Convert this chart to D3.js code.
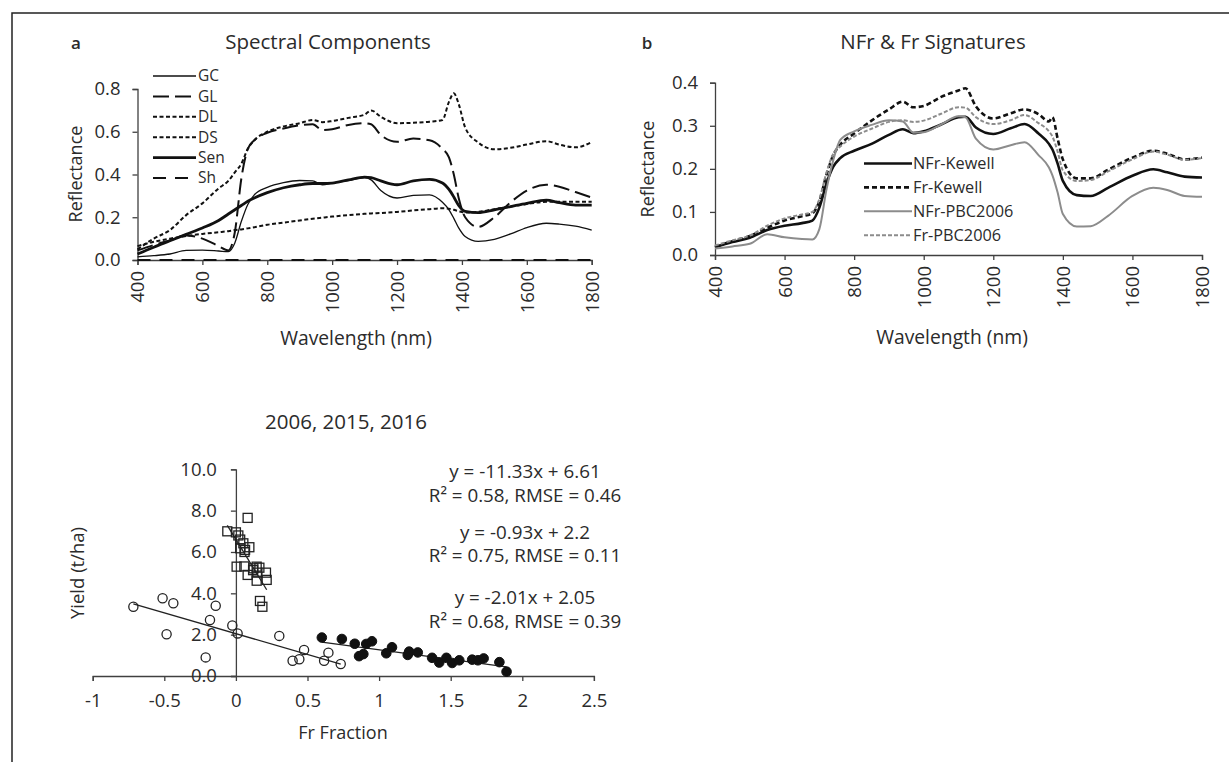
<!DOCTYPE html>
<html>
<head>
<meta charset="utf-8">
<script src="https://cdn.jsdelivr.net/npm/d3@7"></script>
<style>
  body { margin: 0; background: #fff; }
  svg { display: block; font-family: "Open Sans", sans-serif; }
  .axis path, .axis line { stroke: #404040; stroke-width: 1.3; }
  .axis text { fill: #2b2b2b; font-size: 18.5px; font-family: "Open Sans", sans-serif; }
</style>
</head>
<body>
<svg width="1229" height="762"></svg>
<script>
// ---- panel a: spectral components ----
var wlA = [400,450,500,550,600,650,680,700,720,740,760,800,850,900,940,970,1000,1050,1100,1120,1150,1200,1250,1300,1340,1360,1375,1390,1410,1450,1500,1550,1600,1660,1700,1750,1800];
var GC  = [.015,.02,.028,.045,.046,.042,.039,.08,.18,.26,.305,.34,.362,.372,.37,.352,.36,.372,.385,.375,.325,.29,.302,.305,.27,.235,.195,.15,.11,.087,.097,.122,.152,.172,.168,.158,.14];
var GL  = [.045,.07,.092,.115,.1,.065,.045,.13,.38,.52,.56,.595,.615,.63,.635,.608,.612,.632,.64,.635,.585,.553,.568,.56,.52,.48,.40,.29,.2,.155,.2,.27,.325,.352,.343,.318,.292];
var DL  = [.05,.1,.14,.21,.265,.335,.37,.41,.45,.52,.56,.6,.625,.64,.655,.645,.65,.665,.68,.7,.67,.64,.642,.647,.655,.74,.78,.73,.62,.55,.518,.525,.54,.556,.54,.527,.552];
var DS  = [.065,.085,.1,.112,.122,.13,.135,.14,.143,.148,.153,.165,.175,.185,.193,.198,.203,.21,.216,.218,.22,.225,.232,.238,.242,.24,.235,.228,.222,.225,.238,.25,.262,.272,.272,.273,.273];
var Sen = [.028,.06,.09,.12,.15,.185,.215,.235,.255,.275,.29,.315,.338,.352,.358,.358,.36,.375,.388,.385,.37,.352,.37,.377,.36,.33,.295,.255,.228,.222,.235,.25,.265,.28,.268,.257,.257];
var Sh  = [0,0,0,0,0,0,0,0,0,0,0,0,0,0,0,0,0,0,0,0,0,0,0,0,0,0,0,0,0,0,0,0,0,0,0,0,0];
var namesA = ["GC","GL","DL","DS","Sen","Sh"];

// ---- panel b: NFr & Fr signatures ----
var wlB = [400,450,500,550,600,650,680,700,720,740,760,800,850,900,940,970,1000,1050,1100,1120,1150,1200,1250,1290,1330,1360,1370,1385,1400,1440,1480,1530,1600,1660,1700,1750,1800];
var nfrKewell = [.018,.03,.04,.058,.068,.074,.08,.11,.165,.205,.225,.242,.258,.279,.292,.283,.287,.303,.32,.321,.296,.281,.294,.304,.282,.258,.245,.212,.172,.139,.137,.156,.184,.199,.192,.182,.18];
var frKewell  = [.019,.032,.044,.063,.08,.09,.097,.125,.185,.232,.256,.282,.312,.338,.356,.343,.346,.367,.382,.387,.345,.317,.329,.338,.327,.31,.32,.27,.222,.178,.178,.198,.226,.242,.235,.222,.226];
var nfrPBC    = [.015,.02,.026,.048,.041,.037,.036,.06,.15,.22,.267,.287,.302,.313,.31,.284,.285,.303,.322,.32,.27,.245,.255,.262,.232,.203,.185,.145,.095,.066,.067,.091,.137,.156,.151,.137,.135];
var frPBC     = [.022,.034,.045,.068,.085,.094,.1,.13,.19,.235,.252,.275,.293,.309,.313,.309,.312,.328,.343,.342,.32,.304,.313,.325,.306,.287,.275,.24,.196,.172,.174,.194,.222,.24,.233,.221,.225];
var namesB = ["NFr-Kewell","Fr-Kewell","NFr-PBC2006","Fr-PBC2006"];

// ---- panel c: yield vs Fr fraction ----
var squares = [[-0.06,7.0],[0.0,6.95],[0.017,6.8],[0.03,6.6],[0.082,7.65],[0.052,6.42],[0.03,6.18],[0.06,6.0],[0.064,6.1],[0.094,6.23],[0.005,5.29],[0.059,5.3],[0.082,4.89],[0.12,5.12],[0.122,5.21],[0.145,5.29],[0.15,5.0],[0.164,5.24],[0.145,4.61],[0.21,5.0],[0.215,4.65],[0.168,3.63],[0.185,3.35]];
var openCircles = [[-0.716,3.35],[-0.512,3.76],[-0.437,3.52],[-0.484,2.02],[-0.141,3.4],[-0.181,2.71],[-0.211,0.9],[-0.025,2.44],[0.012,2.06],[0.303,1.94],[0.396,0.74],[0.443,0.81],[0.476,1.26],[0.616,0.74],[0.646,1.13],[0.732,0.58]];
var filledCircles = [[0.6,1.86],[0.74,1.79],[0.83,1.56],[0.86,0.96],[0.89,1.06],[0.91,1.55],[0.95,1.68],[1.05,1.1],[1.09,1.39],[1.2,1.02],[1.21,1.18],[1.27,1.14],[1.37,0.88],[1.42,0.65],[1.47,0.88],[1.51,0.63],[1.56,0.76],[1.65,0.79],[1.69,0.76],[1.73,0.85],[1.84,0.67],[1.89,0.21]];
var fits = [
  {slope: -11.33, icept: 6.61, pts: squares},
  {slope: -0.93, icept: 2.2, pts: filledCircles},
  {slope: -2.01, icept: 2.05, pts: openCircles}
];
var eqLines = ["y = -11.33x + 6.61", "R\u00b2 = 0.58, RMSE = 0.46",
               "y = -0.93x + 2.2", "R\u00b2 = 0.75, RMSE = 0.11",
               "y = -2.01x + 2.05", "R\u00b2 = 0.68, RMSE = 0.39"];
var xTicksC = [-1,-0.5,0,0.5,1,1.5,2,2.5];

var svg = d3.select("svg"),
    ink = "#2b2b2b";

// frame
svg.append("rect")
    .attr("x", 12).attr("y", 13)
    .attr("width", 1240).attr("height", 780)
    .attr("fill", "none").attr("stroke", "#222").attr("stroke-width", 1.5);

function txt(x, y, s, size, opts) {
  opts = opts || {};
  var t = svg.append("text")
    .attr("x", x).attr("y", y)
    .attr("dy", "0.35em")
    .attr("text-anchor", opts.anchor || "middle")
    .style("font-size", size + "px")
    .style("font-weight", opts.weight || null)
    .style("fill", ink)
    .text(s);
  if (opts.rotate) t.attr("transform", "rotate(-90," + x + "," + y + ")");
  return t;
}

var mono = d3.line().curve(d3.curveMonotoneX);

// ================= panel a =================
var xa = d3.scaleLinear().domain([400, 1800]).range([137.5, 591.7]),
    ya = d3.scaleLinear().domain([0, 0.8]).range([260, 89]);

var styleA = {
  GC:  {w: 1.3, dash: null},
  GL:  {w: 2, dash: "16,6"},
  DL:  {w: 2, dash: "4,2.5"},
  DS:  {w: 2, dash: "4,2.5"},
  Sen: {w: 2.8, dash: null},
  Sh:  {w: 2, dash: "13,9"}
};
var seriesA = {GC: GC, GL: GL, DL: DL, DS: DS, Sen: Sen, Sh: Sh};

var gA = svg.append("g");
gA.append("g").attr("class", "axis")
    .attr("transform", "translate(" + xa.range()[0] + ",0)")
    .call(d3.axisLeft(ya).tickValues([0, 0.2, 0.4, 0.6, 0.8]).tickFormat(d3.format(".1f")).tickSizeOuter(0).tickSize(5).tickPadding(12));
var axA = gA.append("g").attr("class", "axis")
    .attr("transform", "translate(0," + ya(0) + ")")
    .call(d3.axisBottom(xa).tickValues(d3.range(400, 1801, 200)).tickFormat(d3.format("d")).tickSizeOuter(0).tickSize(5));
axA.selectAll("text").attr("transform", "rotate(-90)").attr("x", -11).attr("y", 0).attr("dy", "0.35em").style("text-anchor", "end");

namesA.forEach(function(n) {
  gA.append("path")
    .attr("d", mono.x(function(d, i) { return xa(wlA[i]); }).y(function(d) { return ya(d); })(seriesA[n]))
    .attr("fill", "none").attr("stroke", "#111")
    .attr("stroke-width", styleA[n].w)
    .attr("stroke-dasharray", styleA[n].dash);
});

namesA.forEach(function(n, i) {
  var y = 76 + i * 20.4;
  gA.append("line").attr("x1", 153).attr("x2", 196).attr("y1", y).attr("y2", y)
    .attr("stroke", "#111").attr("stroke-width", styleA[n].w).attr("stroke-dasharray", styleA[n].dash);
  txt(198, y, n, 15.5, {anchor: "start"});
});

txt(76, 43, "a", 17, {weight: 600});
txt(328, 42, "Spectral Components", 20.5);
txt(76, 174, "Reflectance", 18, {rotate: true});
txt(356, 338, "Wavelength (nm)", 19.3);

// ================= panel b =================
var xb = d3.scaleLinear().domain([400, 1800]).range([715, 1202]),
    yb = d3.scaleLinear().domain([0, 0.4]).range([255, 82.7]);

var seriesB = [
  {name: namesB[0], v: nfrKewell, c: "#111", w: 2.6, dash: null},
  {name: namesB[1], v: frKewell, c: "#111", w: 2.6, dash: "5,3"},
  {name: namesB[2], v: nfrPBC, c: "#8c8c8c", w: 2, dash: null},
  {name: namesB[3], v: frPBC, c: "#8c8c8c", w: 2, dash: "4,2"}
];

var gB = svg.append("g");
gB.append("g").attr("class", "axis")
    .attr("transform", "translate(" + xb.range()[0] + ",0)")
    .call(d3.axisLeft(yb).tickValues([0, 0.1, 0.2, 0.3, 0.4]).tickFormat(d3.format(".1f")).tickSizeOuter(0).tickSize(5).tickPadding(12));
var axB = gB.append("g").attr("class", "axis")
    .attr("transform", "translate(0," + yb(0) + ")")
    .call(d3.axisBottom(xb).tickValues(d3.range(400, 1801, 200)).tickFormat(d3.format("d")).tickSizeOuter(0).tickSize(5));
axB.selectAll("text").attr("transform", "rotate(-90)").attr("x", -11).attr("y", 0).attr("dy", "0.35em").style("text-anchor", "end");

seriesB.forEach(function(s) {
  gB.append("path")
    .attr("d", mono.x(function(d, i) { return xb(wlB[i]); }).y(function(d) { return yb(d); })(s.v))
    .attr("fill", "none").attr("stroke", s.c)
    .attr("stroke-width", s.w)
    .attr("stroke-dasharray", s.dash);
});

seriesB.forEach(function(s, i) {
  var y = 163.5 + i * 23.9;
  gB.append("line").attr("x1", 864).attr("x2", 912).attr("y1", y).attr("y2", y)
    .attr("stroke", s.c).attr("stroke-width", s.w).attr("stroke-dasharray", s.dash);
  txt(913, y, s.name, 16.3, {anchor: "start"});
});

txt(647, 43, "b", 17, {weight: 600});
txt(933, 42, "NFr & Fr Signatures", 20.5);
txt(648, 169, "Reflectance", 18, {rotate: true});
txt(952, 337, "Wavelength (nm)", 19.3);

// ================= panel c =================
var xc = d3.scaleLinear().domain([-1, 2.5]).range([92.7, 593.9]),
    yc = d3.scaleLinear().domain([0, 10]).range([676, 469.3]);

var gC = svg.append("g");
gC.append("g").attr("class", "axis")
    .attr("transform", "translate(0," + yc(0) + ")")
    .call(d3.axisBottom(xc).tickValues(xTicksC).tickFormat(function(d) { return String(d); }).tickSizeOuter(0).tickSize(5).tickPadding(13));
gC.append("g").attr("class", "axis")
    .attr("transform", "translate(" + xc(0) + ",0)")
    .call(d3.axisLeft(yc).tickValues([0, 2, 4, 6, 8, 10]).tickFormat(d3.format(".1f")).tickSizeOuter(0).tickSize(5).tickPadding(14));

fits.forEach(function(f) {
  var ext = d3.extent(f.pts, function(d) { return d[0]; });
  gC.append("line")
    .attr("x1", xc(ext[0])).attr("y1", yc(f.slope * ext[0] + f.icept))
    .attr("x2", xc(ext[1])).attr("y2", yc(f.slope * ext[1] + f.icept))
    .attr("stroke", "#222").attr("stroke-width", 1.3);
});

gC.selectAll(".sq").data(squares).enter().append("rect")
    .attr("x", function(d) { return xc(d[0]) - 4.5; })
    .attr("y", function(d) { return yc(d[1]) - 4.5; })
    .attr("width", 9).attr("height", 9)
    .attr("fill", "none").attr("stroke", "#222").attr("stroke-width", 1.3);

gC.selectAll(".oc").data(openCircles).enter().append("circle")
    .attr("cx", function(d) { return xc(d[0]); })
    .attr("cy", function(d) { return yc(d[1]); })
    .attr("r", 4.6)
    .attr("fill", "none").attr("stroke", "#222").attr("stroke-width", 1.3);

gC.selectAll(".fc").data(filledCircles).enter().append("circle")
    .attr("cx", function(d) { return xc(d[0]); })
    .attr("cy", function(d) { return yc(d[1]); })
    .attr("r", 4.8)
    .attr("fill", "#111").attr("stroke", "#111").attr("stroke-width", 1);

var eqY = [471, 495, 532, 555.5, 597, 621];
eqLines.forEach(function(s, i) {
  txt(525, eqY[i], s, 18.8);
});

txt(346, 422, "2006, 2015, 2016", 20.5);
txt(78, 573, "Yield (t/ha)", 18.5, {rotate: true});
txt(343, 733, "Fr Fraction", 18);
</script>
</body>
</html>
